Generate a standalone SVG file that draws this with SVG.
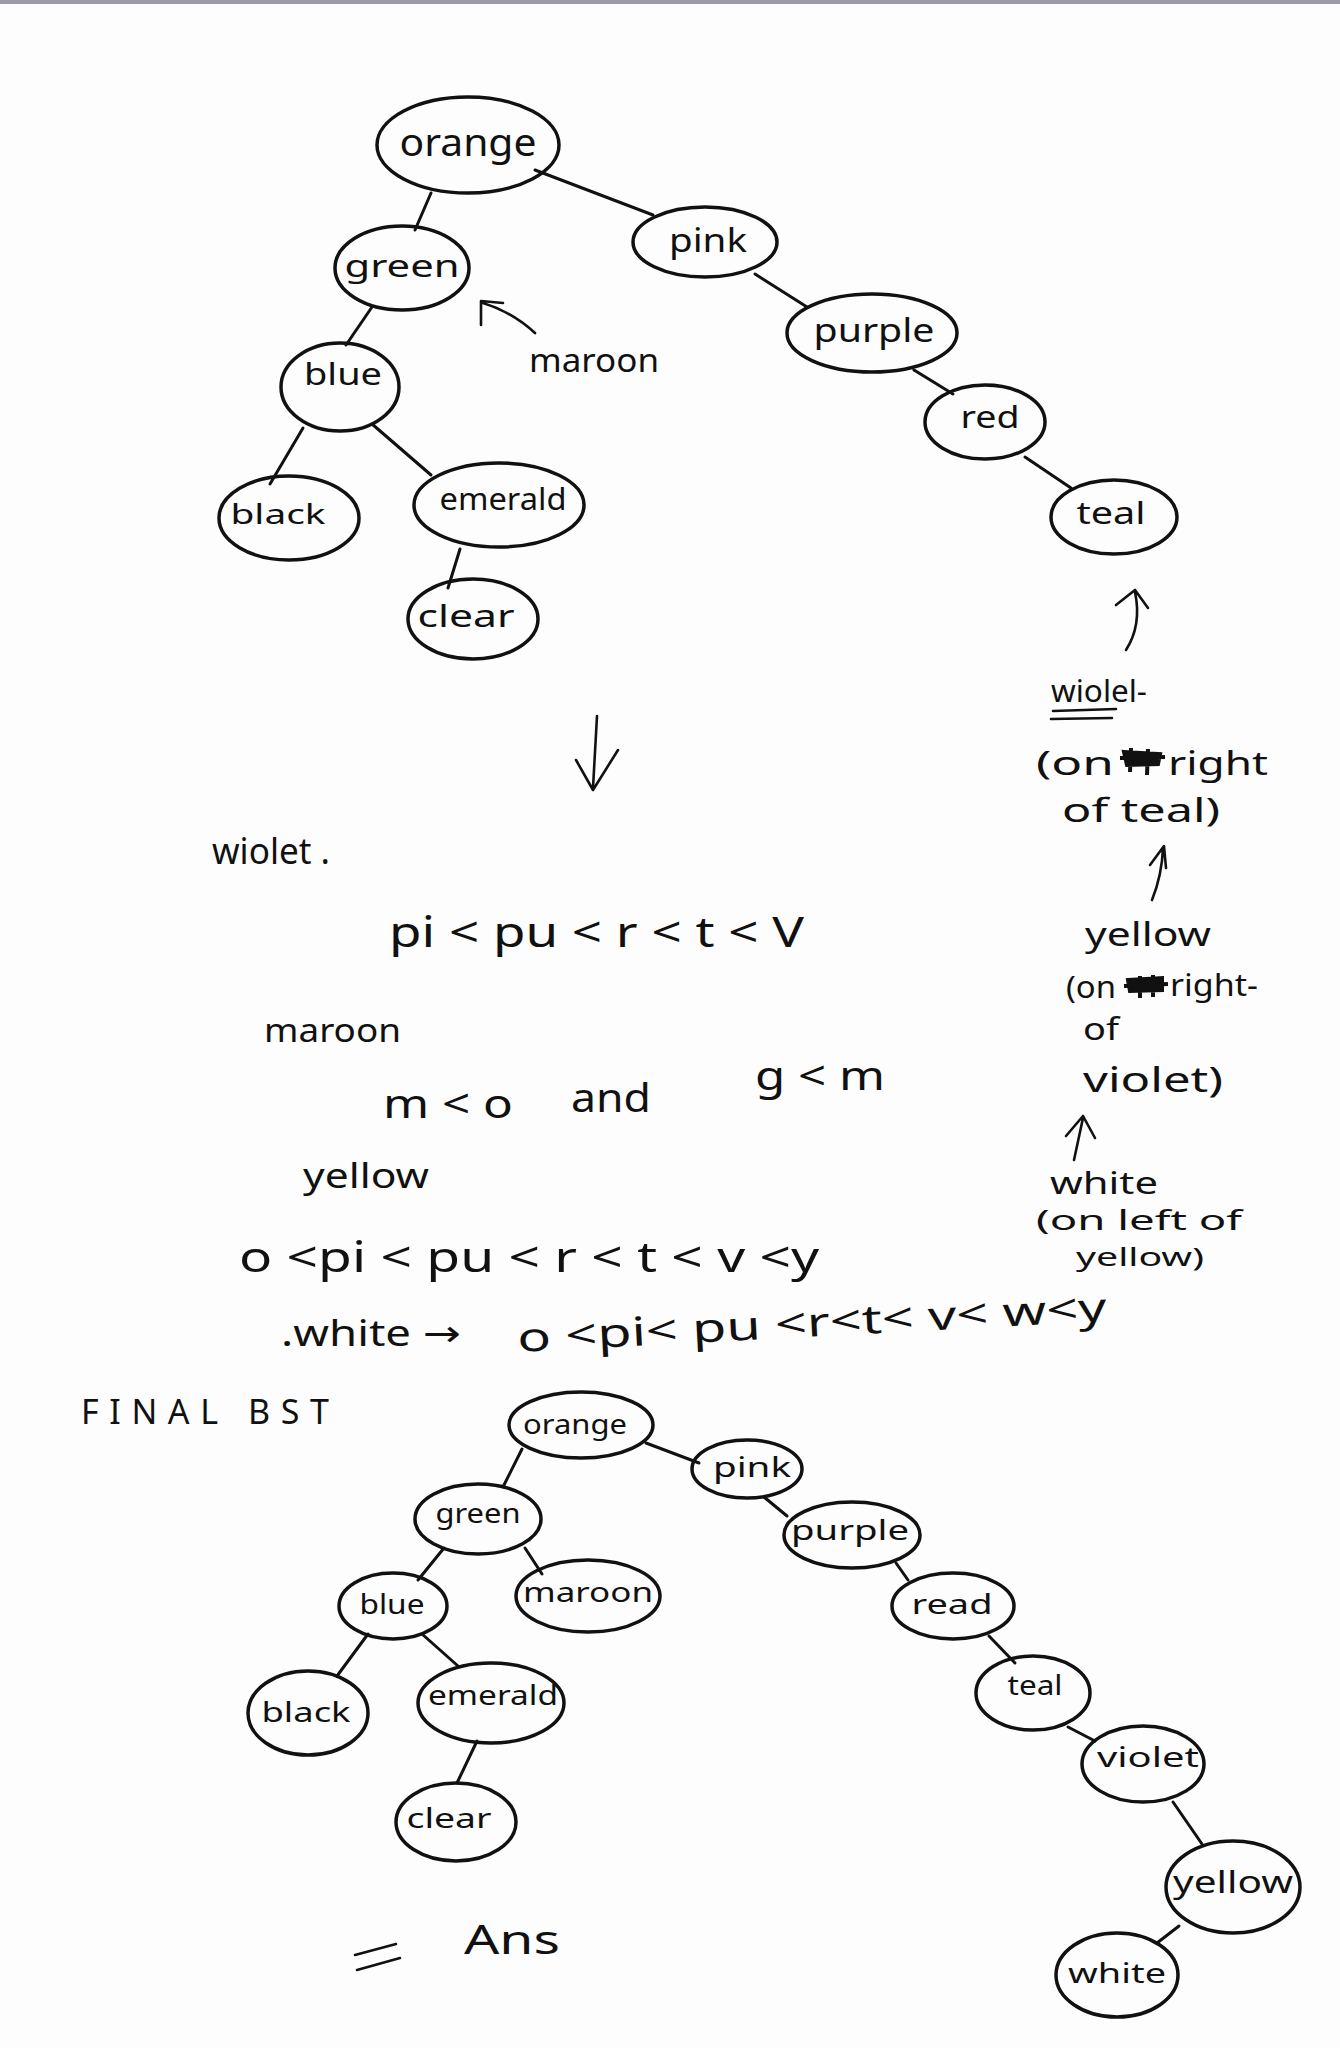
<svg xmlns="http://www.w3.org/2000/svg" width="1340" height="2048" viewBox="0 0 1340 2048">
<defs>
<style>
.n{fill:none;stroke:#111;stroke-width:3.5}
.e{stroke:#111;stroke-width:3;fill:none;stroke-linecap:round}
.t{font-family:"Noto Sans","DejaVu Sans",sans-serif;fill:#111;text-anchor:middle}
.a{font-family:"Noto Sans","DejaVu Sans",sans-serif;fill:#111}
.s{stroke:#111;stroke-width:2.6;fill:none;stroke-linecap:round;stroke-linejoin:round}
</style>
</defs>
<rect width="1340" height="2048" fill="#fdfdfd"/>
<rect width="1340" height="4" fill="#9a9aa8"/>

<g id="connectors">
<!-- top tree -->
<line class="e" x1="431" y1="193" x2="415" y2="230"/>
<line class="e" x1="535" y1="170" x2="653" y2="215"/>
<line class="e" x1="755" y1="274" x2="807" y2="307"/>
<line class="e" x1="372" y1="307" x2="346" y2="345"/>
<line class="e" x1="914" y1="370" x2="953" y2="394"/>
<line class="e" x1="303" y1="428" x2="270" y2="484"/>
<line class="e" x1="372" y1="424" x2="431" y2="475"/>
<line class="e" x1="460" y1="549" x2="448" y2="588"/>
<line class="e" x1="1025" y1="457" x2="1071" y2="488"/>
<!-- bottom tree -->
<line class="e" x1="646" y1="1443" x2="699" y2="1463"/>
<line class="e" x1="522" y1="1449" x2="503" y2="1487"/>
<line class="e" x1="444" y1="1548" x2="418" y2="1580"/>
<line class="e" x1="525" y1="1548" x2="542" y2="1574"/>
<line class="e" x1="764" y1="1497" x2="787" y2="1516"/>
<line class="e" x1="896" y1="1563" x2="908" y2="1580"/>
<line class="e" x1="368" y1="1634" x2="337" y2="1676"/>
<line class="e" x1="422" y1="1634" x2="458" y2="1666"/>
<line class="e" x1="989" y1="1636" x2="1015" y2="1663"/>
<line class="e" x1="477" y1="1741" x2="457" y2="1783"/>
<line class="e" x1="1068" y1="1727" x2="1095" y2="1741"/>
<line class="e" x1="1173" y1="1802" x2="1202" y2="1844"/>
<line class="e" x1="1179" y1="1926" x2="1157" y2="1943"/>
</g>

<!-- top tree nodes -->
<g id="t-orange"><ellipse class="n" cx="468" cy="145" rx="91" ry="48"/><text class="t" x="468" y="156" font-size="38" textLength="137" lengthAdjust="spacingAndGlyphs">orange</text></g>
<g id="t-green"><ellipse class="n" cx="402" cy="268" rx="67" ry="42"/><text class="t" x="402" y="277" font-size="30" textLength="115" lengthAdjust="spacingAndGlyphs">green</text></g>
<g id="t-pink"><ellipse class="n" cx="705" cy="242" rx="72" ry="35"/><text class="t" x="708" y="252" font-size="32" textLength="78" lengthAdjust="spacingAndGlyphs">pink</text></g>
<g id="t-purple"><ellipse class="n" cx="872" cy="333" rx="85" ry="39"/><text class="t" x="874" y="342" font-size="32" textLength="121" lengthAdjust="spacingAndGlyphs">purple</text></g>
<g id="t-blue"><ellipse class="n" cx="340" cy="387" rx="59" ry="44"/><text class="t" x="343" y="385" font-size="30" textLength="78" lengthAdjust="spacingAndGlyphs">blue</text></g>
<g id="t-red"><ellipse class="n" cx="985" cy="422" rx="60" ry="37"/><text class="t" x="990" y="428" font-size="30" textLength="59" lengthAdjust="spacingAndGlyphs">red</text></g>
<g id="t-black"><ellipse class="n" cx="289" cy="518" rx="70" ry="42"/><text class="t" x="278" y="524" font-size="28" textLength="95" lengthAdjust="spacingAndGlyphs">black</text></g>
<g id="t-emerald"><ellipse class="n" cx="499" cy="505" rx="85" ry="42"/><text class="t" x="503" y="510" font-size="30" textLength="127" lengthAdjust="spacingAndGlyphs">emerald</text></g>
<g id="t-teal"><ellipse class="n" cx="1114" cy="517" rx="63" ry="37"/><text class="t" x="1111" y="524" font-size="30" textLength="69" lengthAdjust="spacingAndGlyphs">teal</text></g>
<g id="t-clear"><ellipse class="n" cx="473" cy="619" rx="65" ry="40"/><text class="t" x="466" y="627" font-size="30" textLength="97" lengthAdjust="spacingAndGlyphs">clear</text></g>

<!-- maroon annotation top -->
<g id="ann-maroon">
<path class="s" d="M481 325 L481 301 L503 303 M483 303 Q512 312 535 333"/>
<text class="a" x="529" y="372" font-size="32" textLength="130" lengthAdjust="spacingAndGlyphs">maroon</text>
</g>

<!-- down arrow -->
<g id="down-arrow">
<path class="s" d="M597 716 L593 788 M576 760 L593 790 L618 750"/>
</g>

<!-- middle working -->
<g id="work">
<text class="a" x="212" y="864" font-size="36" textLength="118" lengthAdjust="spacingAndGlyphs">wiolet .</text>
<text class="a" x="389" y="947" font-size="42" textLength="415" lengthAdjust="spacingAndGlyphs">pi &lt; pu &lt; r &lt; t &lt; V</text>
<text class="a" x="264" y="1042" font-size="32" textLength="137" lengthAdjust="spacingAndGlyphs">maroon</text>
<text class="a" x="383" y="1118" font-size="40" textLength="130" lengthAdjust="spacingAndGlyphs">m &lt; o</text>
<text class="a" x="571" y="1112" font-size="40" textLength="80" lengthAdjust="spacingAndGlyphs">and</text>
<text class="a" x="755" y="1090" font-size="40" textLength="130" lengthAdjust="spacingAndGlyphs">g &lt; m</text>
<text class="a" x="303" y="1188" font-size="34" textLength="126" lengthAdjust="spacingAndGlyphs">yellow</text>
<text class="a" x="239" y="1272" font-size="42" textLength="580" lengthAdjust="spacingAndGlyphs">o &lt;pi &lt; pu &lt; r &lt; t &lt; v &lt;y</text>
<text class="a" x="281" y="1346" font-size="36" textLength="180" lengthAdjust="spacingAndGlyphs">.white →</text>
<text class="a" x="518" y="1352" font-size="40" textLength="590" lengthAdjust="spacingAndGlyphs" transform="rotate(-3 518 1352)">o &lt;pi&lt; pu &lt;r&lt;t&lt; v&lt; w&lt;y</text>
</g>

<!-- right side annotations -->
<g id="side">
<path class="s" d="M1126 650 Q1142 625 1135 592 M1116 605 L1135 590 L1148 608"/>
<text class="a" x="1051" y="702" font-size="30" textLength="96" lengthAdjust="spacingAndGlyphs">wiolel-</text>
<path class="s" d="M1053 711 L1116 709 M1051 719 L1112 718"/>
<text class="a" x="1036" y="775" font-size="33" textLength="78" lengthAdjust="spacingAndGlyphs">(on</text>
<path d="M1124 752 L1160 754 L1158 764 L1127 765 Z M1120 758 L1165 757 M1131 748 L1130 772 M1148 749 L1147 775" fill="#111" stroke="#111" stroke-width="4"/>
<text class="a" x="1168" y="775" font-size="33" textLength="100" lengthAdjust="spacingAndGlyphs">right</text>
<text class="a" x="1062" y="822" font-size="33" textLength="158" lengthAdjust="spacingAndGlyphs">of  teal)</text>
<path class="s" d="M1152 900 Q1162 875 1163 848 M1150 865 L1164 846 L1166 868"/>
<text class="a" x="1085" y="946" font-size="32" textLength="126" lengthAdjust="spacingAndGlyphs">yellow</text>
<text class="a" x="1066" y="998" font-size="30" textLength="50" lengthAdjust="spacingAndGlyphs">(on</text>
<path d="M1128 980 L1162 978 L1162 990 L1130 991 Z M1124 986 L1168 984 M1140 976 L1140 998 M1153 975 L1153 997" fill="#111" stroke="#111" stroke-width="4"/>
<text class="a" x="1170" y="996" font-size="30" textLength="88" lengthAdjust="spacingAndGlyphs">right-</text>
<text class="a" x="1083" y="1040" font-size="30" textLength="36" lengthAdjust="spacingAndGlyphs">of</text>
<text class="a" x="1083" y="1092" font-size="34" textLength="140" lengthAdjust="spacingAndGlyphs">violet)</text>
<path class="s" d="M1074 1160 L1083 1118 M1066 1136 L1083 1116 L1095 1138"/>
<text class="a" x="1050" y="1194" font-size="30" textLength="108" lengthAdjust="spacingAndGlyphs">white</text>
<text class="a" x="1036" y="1230" font-size="27" textLength="206" lengthAdjust="spacingAndGlyphs">(on left of</text>
<text class="a" x="1076" y="1266" font-size="26" textLength="128" lengthAdjust="spacingAndGlyphs">yellow)</text>
</g>

<text id="final-title" class="a" x="81" y="1424" font-size="34" textLength="252" lengthAdjust="spacing" letter-spacing="4">FINAL  BST</text>

<!-- bottom tree nodes -->
<g id="b-orange"><ellipse class="n" cx="581" cy="1425" rx="72" ry="33"/><text class="t" x="575" y="1434" font-size="28" textLength="104" lengthAdjust="spacingAndGlyphs">orange</text></g>
<g id="b-pink"><ellipse class="n" cx="747" cy="1469" rx="55" ry="29"/><text class="t" x="752" y="1477" font-size="28" textLength="78" lengthAdjust="spacingAndGlyphs">pink</text></g>
<g id="b-green"><ellipse class="n" cx="478" cy="1519" rx="63" ry="35"/><text class="t" x="478" y="1523" font-size="28" textLength="85" lengthAdjust="spacingAndGlyphs">green</text></g>
<g id="b-purple"><ellipse class="n" cx="852" cy="1535" rx="68" ry="33"/><text class="t" x="850" y="1540" font-size="28" textLength="118" lengthAdjust="spacingAndGlyphs">purple</text></g>
<g id="b-blue"><ellipse class="n" cx="393" cy="1606" rx="54" ry="33"/><text class="t" x="392" y="1614" font-size="28" textLength="65" lengthAdjust="spacingAndGlyphs">blue</text></g>
<g id="b-maroon"><ellipse class="n" cx="588" cy="1596" rx="72" ry="36"/><text class="t" x="588" y="1602" font-size="28" textLength="130" lengthAdjust="spacingAndGlyphs">maroon</text></g>
<g id="b-read"><ellipse class="n" cx="953" cy="1606" rx="61" ry="33"/><text class="t" x="952" y="1614" font-size="28" textLength="81" lengthAdjust="spacingAndGlyphs">read</text></g>
<g id="b-black"><ellipse class="n" cx="308" cy="1713" rx="60" ry="42"/><text class="t" x="306" y="1722" font-size="28" textLength="89" lengthAdjust="spacingAndGlyphs">black</text></g>
<g id="b-emerald"><ellipse class="n" cx="491" cy="1703" rx="73" ry="40"/><text class="t" x="493" y="1705" font-size="28" textLength="130" lengthAdjust="spacingAndGlyphs">emerald</text></g>
<g id="b-teal"><ellipse class="n" cx="1033" cy="1693" rx="57" ry="37"/><text class="t" x="1035" y="1695" font-size="28" textLength="55" lengthAdjust="spacingAndGlyphs">teal</text></g>
<g id="b-violet"><ellipse class="n" cx="1143" cy="1764" rx="61" ry="38"/><text class="t" x="1148" y="1767" font-size="28" textLength="102" lengthAdjust="spacingAndGlyphs">violet</text></g>
<g id="b-clear"><ellipse class="n" cx="456" cy="1822" rx="60" ry="39"/><text class="t" x="449" y="1828" font-size="28" textLength="85" lengthAdjust="spacingAndGlyphs">clear</text></g>
<g id="b-yellow"><ellipse class="n" cx="1233" cy="1887" rx="67" ry="46"/><text class="t" x="1233" y="1893" font-size="30" textLength="120" lengthAdjust="spacingAndGlyphs">yellow</text></g>
<g id="b-white"><ellipse class="n" cx="1117" cy="1975" rx="61" ry="42"/><text class="t" x="1117" y="1983" font-size="28" textLength="98" lengthAdjust="spacingAndGlyphs">white</text></g>

<!-- = Ans -->
<g id="ans">
<path class="s" d="M355 1955 L396 1944 M357 1970 L400 1958"/>
<text class="a" x="464" y="1954" font-size="40" textLength="96" lengthAdjust="spacingAndGlyphs">Ans</text>
</g>
</svg>
